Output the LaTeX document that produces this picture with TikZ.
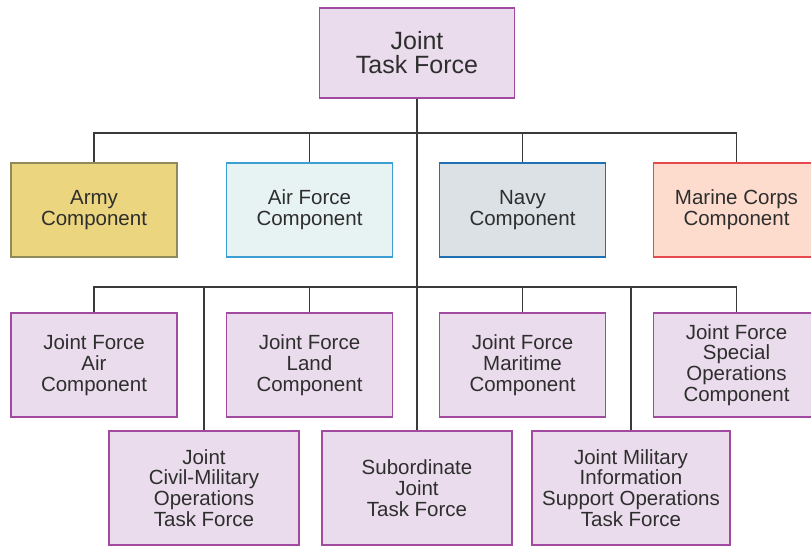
\documentclass[tikz,border=0pt]{standalone}
\usepackage{fontspec}
\setmainfont{Liberation Sans}
\definecolor{pinkfill}{HTML}{EADCEC}
\definecolor{pinkdraw}{HTML}{A24AA0}
\definecolor{armyfill}{HTML}{ECD57F}
\definecolor{armydraw}{HTML}{8E8A5C}
\definecolor{airfill}{HTML}{E7F3F2}
\definecolor{airdraw}{HTML}{3C9FD4}
\definecolor{navyfill}{HTML}{DCE1E5}
\definecolor{navydraw}{HTML}{2170B2}
\definecolor{marfill}{HTML}{FDDCCE}
\definecolor{mardraw}{HTML}{E8494A}
\definecolor{linec}{HTML}{3A3A3A}
\definecolor{textc}{HTML}{2E2E2E}
\tikzset{
  box/.style={draw=pinkdraw, fill=pinkfill, line width=1.8pt, inner sep=0pt,
    align=center, text=textc, font=\fontsize{20.5}{20.8}\selectfont},
  conn/.style={draw=linec, line width=1.5pt},
}
\begin{document}
\begin{tikzpicture}[x=1pt,y=-1pt]
\useasboundingbox (0,0) rectangle (811,548);
\fill[white] (0,0) rectangle (811,548);
% top
\node[box, minimum width=195pt, minimum height=90pt, font=\fontsize{25}{24}\selectfont] (jtf) at (417,53) {Joint\\Task Force};
% row 1
\node[box, draw=armydraw, fill=armyfill, minimum width=166pt, minimum height=94pt] (army) at (94,210) {Army\\Component};
\node[box, draw=airdraw, fill=airfill, minimum width=166pt, minimum height=94pt] (airf) at (309.5,210) {Air Force\\Component};
\node[box, draw=navydraw, fill=navyfill, minimum width=166pt, minimum height=94pt] (navy) at (522.5,210) {Navy\\Component};
\node[box, draw=mardraw, fill=marfill, minimum width=166pt, minimum height=94pt] (marine) at (736.5,210) {Marine Corps\\Component};
% row 2
\node[box, minimum width=166pt, minimum height=104pt] (jfacc) at (94,365) {Joint Force\\Air\\Component};
\node[box, minimum width=166pt, minimum height=104pt] (jflcc) at (309.5,365) {Joint Force\\Land\\Component};
\node[box, minimum width=166pt, minimum height=104pt] (jfmcc) at (522.5,365) {Joint Force\\Maritime\\Component};
\node[box, minimum width=166pt, minimum height=104pt] (jfsoc) at (736.5,365) {Joint Force\\Special\\Operations\\Component};
% row 3
\node[box, minimum width=190pt, minimum height=114pt] (jcmotf) at (204,488) {Joint\\Civil-Military\\Operations\\Task Force};
\node[box, minimum width=190pt, minimum height=114pt] (sjtf) at (417,488) {Subordinate\\Joint\\Task Force};
\node[box, minimum width=198pt, minimum height=114pt] (jmisotf) at (631,488) {Joint Military\\Information\\Support Operations\\Task Force};
% buses
\coordinate (b1) at (417,133);
\coordinate (b2) at (417,287);
\begin{scope}[on background layer/.try]
\end{scope}
\draw[conn] (jtf.south) -- (sjtf.north);
\draw[conn] (army.north) |- (b1) -| (marine.north);
\draw[conn] (airf.north) -- (airf.north |- b1);
\draw[conn] (navy.north) -- (navy.north |- b1);
\draw[conn] (jfacc.north) |- (b2) -| (jfsoc.north);
\draw[conn] (jflcc.north) -- (jflcc.north |- b2);
\draw[conn] (jfmcc.north) -- (jfmcc.north |- b2);
\draw[conn] (jcmotf.north) -- (jcmotf.north |- b2);
\draw[conn] (jmisotf.north) -- (jmisotf.north |- b2);
\end{tikzpicture}
\end{document}
